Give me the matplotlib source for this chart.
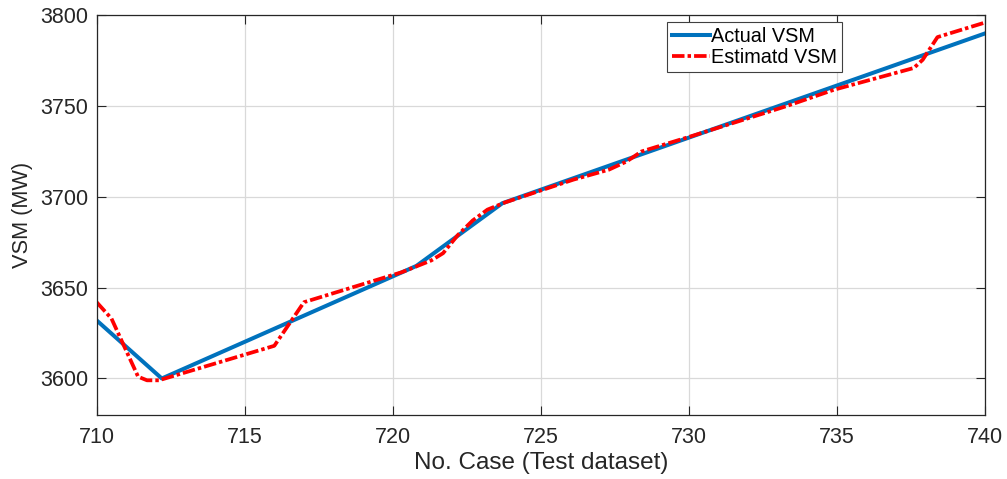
import numpy as np
import matplotlib
matplotlib.use('Agg')
import matplotlib.pyplot as plt

plt.rcParams['font.family'] = ['Liberation Sans', 'DejaVu Sans']
plt.rcParams['lines.scale_dashes'] = False

# Actual VSM
actual_x = [710, 712.2, 720.8, 723.7, 740]
actual_y = [3632, 3600, 3662, 3696.5, 3790]

# Estimated VSM
est_x = [710, 710.5, 711.4, 711.7, 712.1, 716.0, 717.0, 720.3, 721.3, 721.7,
         722.2, 722.7, 723.2, 723.8, 724.9, 726.1, 727.3, 727.9, 728.4, 730.0,
         733.3, 734.9, 737.6, 737.9, 738.4, 740]
est_y = [3642, 3633, 3601, 3599, 3599, 3618, 3642, 3658.5, 3665, 3669,
         3679, 3687, 3693, 3697, 3703, 3709.5, 3715, 3719.5, 3725, 3733,
         3750, 3759, 3771, 3775.5, 3788, 3796]

xticks = [710, 715, 720, 725, 730, 735, 740]
yticks = [3600, 3650, 3700, 3750, 3800]

fig = plt.figure(figsize=(10.07, 4.79), dpi=100)
ax = fig.add_axes([0.096, 0.134, 0.882, 0.834])

ax.plot(actual_x, actual_y, color='#0072BD', lw=2.9, label='Actual VSM')
ax.plot(est_x, est_y, color='red', lw=2.7, dashes=(9, 2.2, 2.5, 2.2),
        label='Estimatd VSM')

ax.set_xlim(710, 740)
ax.set_ylim(3580, 3800)
ax.set_xticks(xticks)
ax.set_yticks(yticks)
ax.grid(True, color='#d9d9d9', lw=0.9)
ax.set_axisbelow(True)
ax.tick_params(direction='in', length=6.5, width=0.8, top=True, right=True,
               labelsize=15.5, pad=6, colors='#262626')
ax.tick_params(axis='x', pad=9)
for s in ax.spines.values():
    s.set_color('#262626')
    s.set_linewidth(0.9)

ax.set_xlabel('No. Case (Test dataset)', fontsize=17.5, color='#262626', labelpad=3)
ax.set_ylabel('VSM (MW)', fontsize=15.7, color='#262626', labelpad=5)

leg = ax.legend(loc='upper right', bbox_to_anchor=(0.839, 0.984), fontsize=14.3,
                handlelength=1.9, handletextpad=0.05, borderpad=0.25,
                labelspacing=0.12, borderaxespad=0, fancybox=False,
                framealpha=1, edgecolor='#404040')
leg.get_frame().set_linewidth(0.8)

fig.savefig('out.png', dpi=100)
